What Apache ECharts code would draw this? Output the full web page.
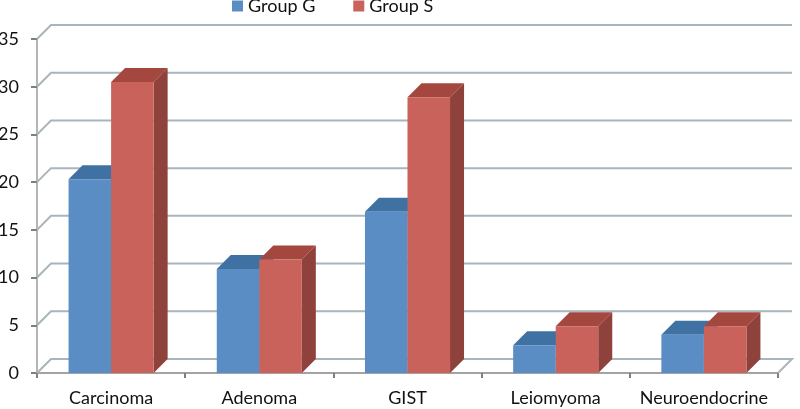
<!DOCTYPE html>
<html><head><meta charset="utf-8">
<style>html,body{margin:0;padding:0;background:#fff}#c{width:800px;height:409px}</style>
<script src="https://cdn.jsdelivr.net/npm/echarts@6/dist/echarts.min.js"></script>
</head><body><div id="c"></div>
<script>
const categories = ['Carcinoma','Adenoma','GIST','Leiomyoma','Neuroendocrine'];
const groupG = [20.3,10.9,16.9,2.9,4.0];
const groupS = [30.5,11.9,28.9,4.9,4.9];
const yTicks = [0,5,10,15,20,25,30,35];
const FONT = 'Lato';
const DEPTH = 14;
const BAR_RATIO = 0.287;

function wall(params, api){
  const cs = params.coordSys;
  const y = api.coord([0, api.value(1)])[1];
  const x0 = cs.x, x1 = cs.x + cs.width;
  const pts = [[x0,y],[x0+DEPTH,y-DEPTH],[x1+DEPTH,y-DEPTH]];
  if (api.value(1) === 0) pts.push([x1,y]);
  return {type:'polyline',shape:{points:pts},style:{fill:null,stroke:'#a8b6bb',lineWidth:2}};
}
function bar3d(offsetSign, front, top, side){
  return function(params, api){
    const p = api.coord([api.value(0), api.value(1)]);
    const base = api.coord([api.value(0), 0]);
    const w = api.size([1,0])[0]*BAR_RATIO;
    const l = offsetSign>0 ? p[0] : p[0]-w;
    const r = l+w, t = p[1], b = base[1], d = DEPTH;
    return {type:'group',children:[
      {type:'polygon',shape:{points:[[r,t],[r+d,t-d],[r+d,b-d],[r,b]]},style:{fill:side}},
      {type:'polygon',shape:{points:[[l,t],[l+d,t-d],[r+d,t-d],[r,t]]},style:{fill:top}},
      {type:'rect',shape:{x:l,y:t,width:w,height:b-t},style:{fill:front}}
    ]};
  };
}
const chart = echarts.init(document.getElementById('c'),null,{renderer:'canvas'});
chart.setOption({
  animation:false,
  backgroundColor:'#fff',
  legend:{
    left:232,top:-3,padding:0,itemWidth:11,itemHeight:11,itemGap:38,icon:'rect',
    data:['Group G','Group S'],
    textStyle:{fontFamily:FONT,fontSize:18,color:'#111'}
  },
  grid:{left:37,right:22,top:39,bottom:36,outerBoundsMode:'none'},
  xAxis:{type:'category',data:categories,
    axisLine:{lineStyle:{color:'#a3a3a3',width:2}},
    axisTick:{show:true,length:5,lineStyle:{color:'#7f7f7f',width:2}},
    axisLabel:{fontFamily:FONT,fontSize:18,color:'#111',margin:16,interval:0},
    splitLine:{show:false}},
  yAxis:{type:'value',min:0,max:35,interval:5,
    axisLine:{show:true,lineStyle:{color:'#b4b4b4',width:2}},
    axisTick:{show:true,length:6,lineStyle:{color:'#7f7f7f',width:2}},
    axisLabel:{fontFamily:FONT,fontSize:18,color:'#111',margin:18,padding:[5,0,0,0]},
    splitLine:{show:false}},
  series:[
    {type:'custom',name:'wall',silent:true,clip:false,z:1,renderItem:wall,
      data:yTicks.map(v=>[0,v]),encode:{x:0,y:1}},
    {type:'custom',name:'Group G',clip:false,z:2,itemStyle:{color:'#5a8dc4'},
      renderItem:bar3d(-1,'#5a8dc4','#3f72a3','#3f72a3'),
      data:groupG.map((v,i)=>[i,v]),encode:{x:0,y:1}},
    {type:'custom',name:'Group S',clip:false,z:3,itemStyle:{color:'#c9625a'},
      renderItem:bar3d(1,'#c9625a','#a4483f','#8f423c'),
      data:groupS.map((v,i)=>[i,v]),encode:{x:0,y:1}}
  ]
});
</script></body></html>
